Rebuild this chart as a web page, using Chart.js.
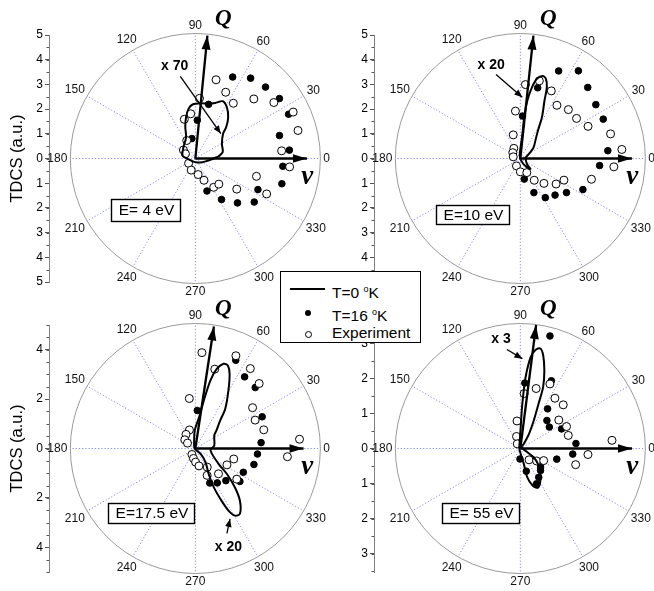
<!DOCTYPE html>
<html><head><meta charset="utf-8">
<script src="https://cdn.jsdelivr.net/npm/chart.js@4.4.1/dist/chart.umd.min.js"></script>
<style>
body{margin:0;background:#fff;width:654px;height:591px;overflow:hidden;position:relative;font-family:"Liberation Sans",Arial,sans-serif}
canvas{position:absolute}
#legend{position:absolute;left:280px;top:271px;width:139px;height:70px;border:1px solid #000;background:#fff;font-size:15.5px;color:#000}
#legend .row{position:absolute;left:51px;line-height:18px}
#legend sup{font-size:9px;vertical-align:6px}
.mk{position:absolute}
</style></head><body>
<canvas id="c1" width="330" height="300" style="left:0;top:0"></canvas>
<canvas id="c2" width="329" height="300" style="left:325px;top:0"></canvas>
<canvas id="c3" width="330" height="300" style="left:0;top:290px"></canvas>
<canvas id="c4" width="329" height="300" style="left:325px;top:290px"></canvas>
<div id="legend">
  <div class="mk" style="left:9px;top:16px;width:35px;height:2px;background:#000"></div>
  <div class="row" style="top:8px">T=0 <sup>o</sup>K</div>
  <div class="mk" style="left:24px;top:38px;width:6px;height:6px;border-radius:50%;background:#000"></div>
  <div class="row" style="top:31px">T=16 <sup>o</sup>K</div>
  <div class="mk" style="left:24px;top:59px;width:5px;height:5px;border-radius:50%;border:1px solid #000;background:#fff"></div>
  <div class="row" style="top:52px">Experiment</div>
</div>
<script>
// ---------- data (angles in degrees, TDCS radii in a.u.) ----------
const angleTicks = [0,30,60,90,120,150,180,210,240,270,300,330];
const energyLabels = ['E= 4 eV','E=10 eV','E=17.5 eV','E= 55 eV'];
const scaleNotes = ['x 70','x 20','x 20','x 3'];
const axisMax = [5,5,5,3.52];
const tickValues = [
  [-5,-4,-3,-2,-1,0,1,2,3,4,5],
  [-5,-4,-3,-2,-1,0,1,2,3,4,5],
  [-4,-2,0,2,4],
  [-3,-2,-1,0,1,2,3]
];
const qAxisAngle = [84.3,83.8,81.2,82.6];
const qAxisLen = [5.0,5.0,5.0,3.55];
const vAxisLen = [4.6,4.6,4.46,3.24];

// E = 4 eV
const p1FilledAngle = [5,15,25,35,45,55,65,76,87,100,290,303,314,324,334,344,355];
const p1FilledR     = [3.89,3.59,4.24,4.23,4.09,3.97,3.64,2.26,1.55,0.82,1.40,1.98,2.50,3.00,2.87,3.71,3.62];
const p1OpenAngle   = [5,15,25,35,45,55,65,75,86,96,106,116,145,155,215,250,280,292,303,313,324,334,344,355];
const p1OpenR       = [3.57,4.38,4.45,3.95,3.41,2.73,2.96,3.30,2.44,1.82,1.65,0.81,0.60,0.45,0.34,0.50,0.66,0.95,1.39,1.42,2.11,3.27,2.62,3.90];
const p1CurveAngle  = [5,13,28,41,45,51,58,64,70,76,84,93,98,103,108,114,137,167,182,274,332,355,5];
const p1CurveR      = [0.96,1.16,1.24,1.51,1.80,2.15,2.45,2.58,2.39,2.28,2.25,2.19,2.03,1.71,1.34,0.94,0.67,0.54,0.32,0.15,0.32,0.62,0.96];

// E = 10 eV
const p2FilledAngle = [5,25,35,46,56,66,76,87,281,292,303,314,324,334,355];
const p2FilledR     = [3.62,3.77,3.80,4.00,4.28,3.88,2.95,1.72,0.85,1.49,1.89,2.06,2.35,2.87,3.28];
const p2OpenAngle   = [5,15,25,35,45,55,65,76,86,96,107,123,143,167,242,270,295,303,314,325,334,344,355];
const p2OpenR       = [4.20,3.85,3.08,2.83,2.80,2.63,3.02,3.24,3.00,1.93,1.00,0.49,0.39,0.30,0.34,0.54,0.63,1.05,1.40,1.80,2.00,3.05,3.87];
const p2CurveAngle  = [270,100,88,85,84.5,83,80.5,78,74.6,72,69.3,67,62,57.4,49.7,40,32,20,7,320,315,310,300,270];
const p2CurveR      = [0.03,0.15,0.5,1.0,1.7,2.37,2.93,3.30,3.46,3.40,3.09,2.55,1.90,1.35,0.96,0.72,0.49,0.30,0.22,0.36,0.59,0.50,0.26,0.03];

// E = 17.5 eV
const p3FilledAngle = [5,25,45,55,65,87,293,303,314,324,334,345,355];
const p3FilledR     = [2.72,3.04,3.49,3.54,3.94,1.54,1.52,1.66,1.81,2.27,2.20,2.50,2.57];
const p3OpenAngle   = [5,15,25,35,45,55,66,76,86,97,108,124,141,146,240,259,271,282,294,303,313,324,333,345,355];
const p3OpenR       = [4.31,2.92,2.72,2.88,3.72,3.95,4.11,3.31,3.89,2.04,0.79,0.69,0.56,0.39,0.28,0.41,0.55,0.72,1.19,0.90,1.40,2.11,1.46,1.64,3.81];
const p3CurveAngle  = [105,92,83,79.8,77.3,74.6,71.3,68.3,65,59.9,52.6,47.9,40,34,8.7,353,327,321.6,316,311,304.8,301,298.5,296.8,295.8,298,307,315,200,105];
const p3CurveR      = [0.2,0.73,1.28,1.98,2.83,3.35,3.62,3.62,3.34,2.72,2.03,1.53,1.13,0.94,0.79,0.63,1.14,1.66,2.27,2.80,3.22,3.17,2.86,2.28,1.74,1.17,0.7,0.3,0.03,0.2];

// E = 55 eV
const p4FilledAngle = [5,25,36,46,55,65,75,86,268,285,295,303,313,318,344,354];
const p4FilledR     = [1.62,1.32,1.04,1.11,1.38,2.13,3.32,1.87,0.30,0.67,1.11,0.98,0.86,0.79,1.10,1.53];
const p4OpenAngle   = [5,15,25,36,45,55,65,75,86,97,108,124,308,323,333,344,355];
const p4OpenR       = [2.67,1.44,1.48,1.38,1.76,1.75,2.03,1.77,1.57,0.79,0.36,0.16,0.41,0.59,0.76,1.67,1.97];
const p4CurveAngle  = [52,59,64,67.5,69.3,72.6,76,78.5,81,83.4,85.7,87.4,89,95,200,283,283.7,288.8,294.5,301,310.5,319,327,333,40,52];
const p4CurveR      = [0.17,0.49,0.89,1.38,1.87,2.33,2.74,2.91,2.85,2.63,2.04,1.28,0.61,0.2,0.03,0.45,0.84,1.12,1.23,1.12,0.89,0.68,0.46,0.22,0.05,0.17];

// ---------- layout (pixels, per canvas) ----------
const FAMILY = '"Liberation Sans", Arial, sans-serif';
const CX = 198, AXIS_X = 49, TOP = 35, BOTTOM = 282, H = 300, CIRCLE_PX = 125;
const layouts = [
  {id:'c1', w:330, title:true,  box:[111,199,69,22], note:{tx:-0.85,ty:3.72,a:[-0.62,3.32,1.05,1.01]}},
  {id:'c2', w:329, title:false, box:[111,205,73,19], note:{tx:-1.20,ty:3.79,a:[-1.0,3.40,0.08,2.48]}},
  {id:'c3', w:330, title:true,  box:[108,213,86,20], note:{tx:1.36,ty:-4.0,a:[1.30,-3.44,1.43,-2.85]}},
  {id:'c4', w:329, title:false, box:[117,213,77,20], note:{tx:-0.56,ty:3.11,a:[-0.39,2.82,0.06,2.56]}}
];
const series = [
  [p1FilledAngle,p1FilledR,p1OpenAngle,p1OpenR,p1CurveAngle,p1CurveR],
  [p2FilledAngle,p2FilledR,p2OpenAngle,p2OpenR,p2CurveAngle,p2CurveR],
  [p3FilledAngle,p3FilledR,p3OpenAngle,p3OpenR,p3CurveAngle,p3CurveR],
  [p4FilledAngle,p4FilledR,p4OpenAngle,p4OpenR,p4CurveAngle,p4CurveR]
];

const rad = d => d*Math.PI/180;
function polar(a, r){ return a.map((t,i)=>({x:r[i]*Math.cos(rad(t)), y:r[i]*Math.sin(rad(t))})); }

function arrowHead(ctx, x0, y0, x1, y1, len, hw){
  const ang = Math.atan2(y1-y0, x1-x0);
  const bx = x1 - len*Math.cos(ang), by = y1 - len*Math.sin(ang);
  ctx.beginPath();
  ctx.moveTo(x1,y1);
  ctx.lineTo(bx + hw*Math.sin(ang), by - hw*Math.cos(ang));
  ctx.lineTo(bx - hw*Math.sin(ang), by + hw*Math.cos(ang));
  ctx.closePath(); ctx.fill();
}

function makeDeco(i){
  const L = layouts[i];
  return {
    id:'deco'+i,
    beforeDatasetsDraw(chart){
      const ctx = chart.ctx, xs = chart.scales.x, ys = chart.scales.y;
      const cx = xs.getPixelForValue(0), cy = ys.getPixelForValue(0);
      const R = CIRCLE_PX;
      ctx.save();
      // spokes
      ctx.strokeStyle = 'rgba(80,80,235,0.85)'; ctx.lineWidth = 0.8; ctx.setLineDash([1.2,2]);
      angleTicks.forEach(a=>{
        ctx.beginPath(); ctx.moveTo(cx,cy);
        ctx.lineTo(cx+R*Math.cos(rad(a)), cy-R*Math.sin(rad(a))); ctx.stroke();
      });
      ctx.setLineDash([]);
      ctx.strokeStyle = '#9a9a9a'; ctx.lineWidth = 1;
      ctx.beginPath(); ctx.arc(cx,cy,R,0,Math.PI*2); ctx.stroke();
      // angular labels
      ctx.fillStyle = '#111'; ctx.font = '12px '+FAMILY;
      ctx.textAlign = 'center'; ctx.textBaseline = 'middle';
      angleTicks.forEach(a=>{
        const t = String(a), w = ctx.measureText(t).width, h = 10;
        const c = Math.cos(rad(a)), s = Math.sin(rad(a));
        const d = R + 3 + Math.abs(c)*w/2 + Math.abs(s)*h/2;
        ctx.fillText(t, cx + d*c, cy - d*s + 0.5);
      });
      // minor ticks on the left axis
      ctx.strokeStyle = '#555'; ctx.lineWidth = 1;
      const m = axisMax[i];
      for(let v = -Math.floor(m*2)/2; v <= m+1e-9; v += 0.5){
        const y = Math.round(ys.getPixelForValue(v))+0.5;
        ctx.beginPath(); ctx.moveTo(ys.right-2.5,y); ctx.lineTo(ys.right,y); ctx.stroke();
      }
      ctx.restore();
    },
    afterDatasetsDraw(chart){
      const ctx = chart.ctx, xs = chart.scales.x, ys = chart.scales.y;
      const P = (x,y)=>[xs.getPixelForValue(x), ys.getPixelForValue(y)];
      const [cx,cy] = P(0,0);
      ctx.save();
      ctx.fillStyle = '#000'; ctx.strokeStyle = '#000';
      // arrow heads of Q and v
      const qa = rad(qAxisAngle[i]);
      const [qx,qy] = P(qAxisLen[i]*Math.cos(qa), qAxisLen[i]*Math.sin(qa));
      arrowHead(ctx, cx, cy, qx, qy, 14, 4.5);
      const [vx,vy] = P(vAxisLen[i], 0);
      arrowHead(ctx, cx, cy, vx, vy, 14, 4.2);
      // Q and v symbols
      ctx.textAlign = 'center'; ctx.textBaseline = 'middle';
      ctx.font = 'bold italic 23px "Liberation Serif", "Times New Roman", serif';
      ctx.fillText('Q', cx+28, cy-139);
      ctx.font = 'bold italic 27px "Liberation Serif", "Times New Roman", serif';
      ctx.fillText('v', cx+112, cy+19);
      // scale note with arrow
      const n = L.note;
      ctx.font = 'bold 14px '+FAMILY;
      const [tx,ty] = P(n.tx, n.ty);
      ctx.fillText(scaleNotes[i], tx, ty);
      const [a0x,a0y] = P(n.a[0],n.a[1]), [a1x,a1y] = P(n.a[2],n.a[3]);
      ctx.lineWidth = 1.3;
      ctx.beginPath(); ctx.moveTo(a0x,a0y); ctx.lineTo(a1x,a1y); ctx.stroke();
      arrowHead(ctx, a0x, a0y, a1x, a1y, 8, 3.2);
      // energy box
      const b = L.box;
      ctx.fillStyle = '#fff'; ctx.fillRect(b[0],b[1],b[2],b[3]);
      ctx.lineWidth = 1.4; ctx.strokeRect(b[0]+0.5,b[1]+0.5,b[2],b[3]);
      ctx.fillStyle = '#000'; ctx.font = '15.5px '+FAMILY;
      ctx.fillText(energyLabels[i], b[0]+b[2]/2+1, b[1]+b[3]/2+1);
      ctx.restore();
    }
  };
}

layouts.forEach((L,i)=>{
  const [fA,fR,oA,oR,cA,cR] = series[i];
  const k = (BOTTOM-TOP)/(2*axisMax[i]);
  const xmin = -(CX-AXIS_X)/k, xmax = (L.w-CX)/k;
  const qa = rad(qAxisAngle[i]);
  new Chart(document.getElementById(L.id), {
    type:'scatter',
    data:{datasets:[
      {label:'T=0 K', data:polar(cA,cR), showLine:true, borderColor:'#000', borderWidth:2, pointRadius:0, tension:0.3, fill:false, order:0, clip:false},
      {label:'Q', data:[{x:0,y:0},{x:qAxisLen[i]*Math.cos(qa), y:qAxisLen[i]*Math.sin(qa)}], showLine:true, borderColor:'#000', borderWidth:2.3, pointRadius:0, order:1, clip:false},
      {label:'v', data:[{x:0,y:0},{x:vAxisLen[i], y:0}], showLine:true, borderColor:'#000', borderWidth:2.3, pointRadius:0, order:1, clip:false},
      {label:'Experiment', data:polar(oA,oR), showLine:false, pointRadius:4, pointBackgroundColor:'#fff', pointBorderColor:'#000', pointBorderWidth:1, order:2, clip:false},
      {label:'T=16 K', data:polar(fA,fR), showLine:false, pointRadius:3.3, pointBackgroundColor:'#000', pointBorderColor:'#000', pointBorderWidth:1, order:3, clip:false}
    ]},
    options:{
      responsive:false, animation:false, devicePixelRatio:1, events:[],
      layout:{padding:{left:0,right:0,top:TOP,bottom:H-BOTTOM}},
      plugins:{legend:{display:false}, tooltip:{enabled:false}},
      scales:{
        x:{type:'linear', min:xmin, max:xmax, display:false},
        y:{type:'linear', position:'left', min:-axisMax[i], max:axisMax[i],
           afterBuildTicks:s=>{ s.ticks = tickValues[i].map(v=>({value:v})); },
           afterFit:s=>{ s.width = AXIS_X; },
           grid:{display:true, drawOnChartArea:false, drawTicks:true, tickLength:4, color:'#555'},
           border:{display:true, color:'#808080', width:1},
           title:{display:L.title, text:'TDCS (a.u.)', color:'#000', font:{size:16.5, family:FAMILY}, padding:{top:8,bottom:0}},
           ticks:{color:'#000', padding:2, font:{size:12, family:FAMILY},
                  callback:v=>String(Math.abs(Math.round(v*100)/100))}}
      }
    },
    plugins:[makeDeco(i)]
  });
});
</script>
</body></html>
